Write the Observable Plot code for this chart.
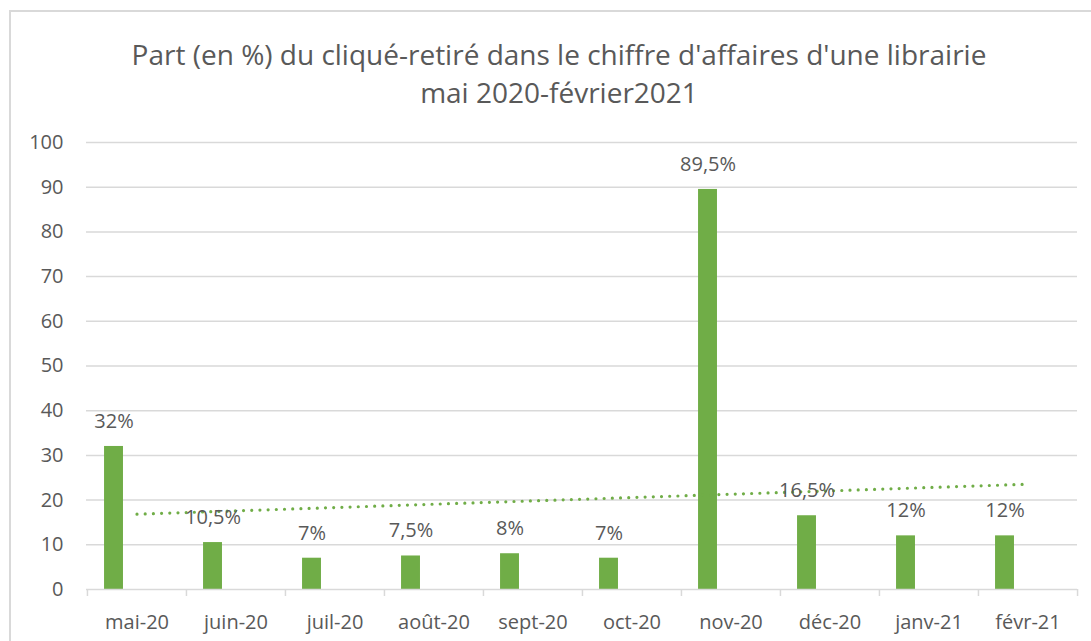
<!DOCTYPE html>
<html>
<head>
<meta charset="utf-8">
<script src="https://cdn.jsdelivr.net/npm/d3@7"></script>
<script src="https://cdn.jsdelivr.net/npm/@observablehq/plot@0.6"></script>
<style>
  html, body { margin: 0; padding: 0; background: #fff; }
  body { width: 1091px; height: 641px; position: relative; overflow: hidden; font-family: "Open Sans", sans-serif; }
  #frame { position: absolute; left: 9px; top: 10px; width: 1200px; height: 800px; border-left: 2px solid #d9d9d9; border-top: 2px solid #d9d9d9; }
  #title { position: absolute; left: 0; top: 35px; width: 1118px; text-align: center; color: #595959; font-size: 28px; line-height: 38px; font-weight: 400; }
  #chart { position: absolute; left: 0; top: 125px; }
</style>
</head>
<body>
<div id="frame"></div>
<div id="title">Part (en %) du cliqué-retiré dans le chiffre d'affaires d'une librairie<br>mai 2020-février2021</div>
<div id="chart"></div>
<script>
const months = ["mai-20","juin-20","juil-20","août-20","sept-20","oct-20","nov-20","déc-20","janv-21","févr-21"];
const values = [32, 10.5, 7, 7.5, 8, 7, 89.5, 16.5, 12, 12];
const labels = ["32%","10,5%","7%","7,5%","8%","7%","89,5%","16,5%","12%","12%"];
const yTicks = [0,10,20,30,40,50,60,70,80,90,100];

const data = months.map((m, i) => ({month: m, value: values[i], label: labels[i], i}));

// linear trend (least squares) computed from the values
const n = values.length;
const mx = (n - 1) / 2;
const my = d3.mean(values);
const slope = d3.sum(values, (v, i) => (i - mx) * (v - my)) / d3.sum(values, (v, i) => (i - mx) ** 2);
const trend = months.map((m, i) => ({month: m, value: my + slope * (i - mx)}));

const W = 1091, H = 516, ML = 86, MR = 14, MT = 17, MB = 52;
const bw = (W - ML - MR) / n;
const green = "#70AD47", grey = "#595959", grid = "#d9d9d9";

const chart = Plot.plot({
  width: W, height: H,
  marginLeft: ML, marginRight: MR, marginTop: MT, marginBottom: MB,
  style: {fontFamily: "Open Sans, sans-serif", fontSize: "20px", color: grey, background: "transparent"},
  x: {domain: months, padding: 0, label: null},
  y: {domain: [0, 100], label: null},
  marks: [
    Plot.ruleY(yTicks.filter(d => d > 0), {stroke: grid, strokeWidth: 1.5}),
    Plot.barY(data, {x: "month", y: "value", fill: green, insetLeft: bw * 0.172, insetRight: bw * 0.636}),
    Plot.ruleY([0], {stroke: grid, strokeWidth: 1.5}),
    Plot.ruleX(months, {x: d => d, dx: -bw / 2, y1: 0, y2: 0, insetBottom: -7, stroke: grid, strokeWidth: 1.5}),
    Plot.ruleX([months[n - 1]], {x: d => d, dx: bw / 2, y1: 0, y2: 0, insetBottom: -7, stroke: grid, strokeWidth: 1.5}),
    Plot.line(trend, {x: "month", y: "value", stroke: green, strokeWidth: 3.2, strokeDasharray: "0,8.2", strokeLinecap: "round"}),
    Plot.text(data, {x: "month", y: "value", text: "label", dx: -bw * 0.232, dy: -25, fill: grey, fontSize: 20, lineAnchor: "middle"}),
    Plot.axisY({ticks: yTicks, tickSize: 0, tickPadding: 23, fontSize: 20, fill: grey, label: null}),
    Plot.axisX({tickSize: 0, tickPadding: 25, fontSize: 20, fill: grey, label: null})
  ]
});
document.getElementById("chart").appendChild(chart);
</script>
</body>
</html>
